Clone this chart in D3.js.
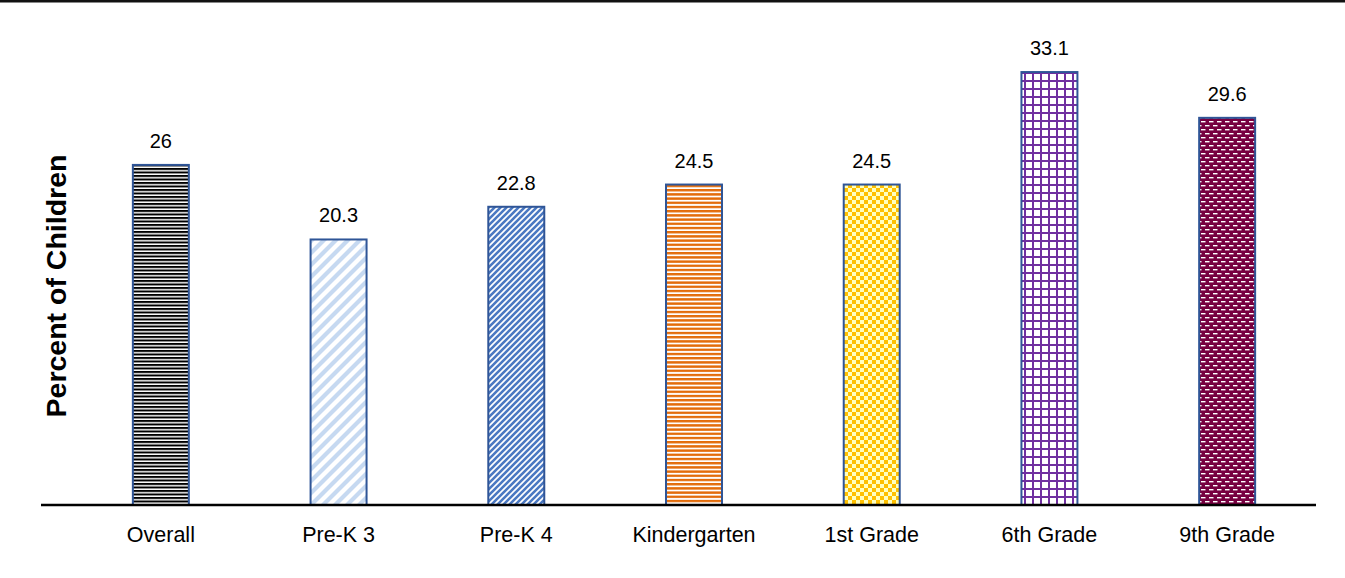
<!DOCTYPE html>
<html>
<head>
<meta charset="utf-8">
<script src="https://cdn.jsdelivr.net/npm/d3@7"></script>
<style>
  html, body { margin: 0; padding: 0; background: #fff; }
  svg { display: block; font-family: Arial, "Liberation Sans", sans-serif; }
</style>
</head>
<body>
<svg id="chart" width="1345" height="578"></svg>
<script>
// Share of children by grade level
const categories = ["Overall", "Pre-K 3", "Pre-K 4", "Kindergarten", "1st Grade", "6th Grade", "9th Grade"];
const values = [26, 20.3, 22.8, 24.5, 24.5, 33.1, 29.6];
const valueLabels = ["26", "20.3", "22.8", "24.5", "24.5", "33.1", "29.6"];
const patternIds = ["hstripe-black", "diag-light", "diag-dark", "hstripe-orange", "checker-gold", "grid-purple", "brick-maroon"];

const svg = d3.select("#chart");
const W = 1345, H = 578;
const margin = { left: 72, right: 29, top: 20, bottom: 73 };
const baseY = 505;

const x = d3.scaleBand()
  .domain(categories)
  .range([margin.left, W - margin.right])
  .paddingInner(0.685)
  .paddingOuter(0.3425);

const y = d3.scaleLinear().domain([0, 40]).range([baseY, baseY - 523.2]);

// Fill patterns
const defs = svg.append("defs");

function pat(id, w, h) {
  return defs.append("pattern").attr("id", id)
    .attr("patternUnits", "userSpaceOnUse").attr("width", w).attr("height", h);
}

// black horizontal stripes
let p = pat("hstripe-black", 4, 3.5);
p.append("rect").attr("width", 4).attr("height", 3.5).attr("fill", "#fff");
p.append("rect").attr("width", 4).attr("height", 2).attr("fill", "#000");

// light blue wide diagonal
p = pat("diag-light", 12, 12);
p.append("rect").attr("width", 12).attr("height", 12).attr("fill", "#fff");
p.append("path").attr("d", "M-3,3 L3,-3 M-3,15 L15,-3 M9,15 L15,9")
  .attr("stroke", "#c6d9f1").attr("stroke-width", 4.2);

// darker blue narrow diagonal
p = pat("diag-dark", 6, 6);
p.append("rect").attr("width", 6).attr("height", 6).attr("fill", "#fff");
p.append("path").attr("d", "M-1.5,1.5 L1.5,-1.5 M-1.5,7.5 L7.5,-1.5 M4.5,7.5 L7.5,4.5")
  .attr("stroke", "#4a78c2").attr("stroke-width", 2.6);

// orange horizontal stripes
p = pat("hstripe-orange", 4, 4.2);
p.append("rect").attr("width", 4).attr("height", 4.2).attr("fill", "#fff");
p.append("rect").attr("width", 4).attr("height", 2.4).attr("fill", "#e36c0a");

// gold checkerboard
p = pat("checker-gold", 8, 8);
p.append("rect").attr("width", 8).attr("height", 8).attr("fill", "#ffffc0");
p.append("rect").attr("width", 4).attr("height", 4).attr("fill", "#ffc000");
p.append("rect").attr("x", 4).attr("y", 4).attr("width", 4).attr("height", 4).attr("fill", "#ffc000");

// purple grid
p = pat("grid-purple", 8, 8);
p.append("rect").attr("width", 8).attr("height", 8).attr("fill", "#fff");
p.append("rect").attr("width", 8).attr("height", 2).attr("fill", "#7030a0");
p.append("rect").attr("width", 2).attr("height", 8).attr("fill", "#7030a0");

// maroon with white brick dashes
p = pat("brick-maroon", 8, 8);
p.append("rect").attr("width", 8).attr("height", 8).attr("fill", "#770040");
p.append("rect").attr("x", 1).attr("y", 1).attr("width", 4.5).attr("height", 1.4).attr("fill", "#fff");
p.append("rect").attr("x", 5).attr("y", 5).attr("width", 4.5).attr("height", 1.4).attr("fill", "#fff");
p.append("rect").attr("x", -3).attr("y", 5).attr("width", 4.5).attr("height", 1.4).attr("fill", "#fff");

// rule along the top edge
svg.append("rect").attr("x", 0).attr("y", 0).attr("width", W).attr("height", 2.5).attr("fill", "#111");

// bars
svg.append("g").selectAll("rect")
  .data(categories.map((c, i) => ({ c, v: values[i], p: patternIds[i], l: valueLabels[i] })))
  .join("rect")
  .attr("x", d => x(d.c))
  .attr("y", d => y(d.v))
  .attr("width", x.bandwidth())
  .attr("height", d => y(0) - y(d.v))
  .attr("fill", d => `url(#${d.p})`)
  .attr("stroke", "#2f5597")
  .attr("stroke-width", 2);

// value labels
svg.append("g").selectAll("text")
  .data(categories.map((c, i) => ({ c, v: values[i], l: valueLabels[i] })))
  .join("text")
  .attr("x", d => x(d.c) + x.bandwidth() / 2)
  .attr("y", d => y(d.v) - 17)
  .attr("text-anchor", "middle")
  .attr("font-size", 20)
  .attr("fill", "#000")
  .text(d => d.l);

// category axis
const xAxis = svg.append("g").attr("transform", `translate(0,${baseY})`)
  .call(d3.axisBottom(x).tickSize(0).tickPadding(22));
xAxis.select(".domain").remove();
xAxis.selectAll("text").attr("font-size", 21.5).attr("fill", "#000")
  .attr("font-family", "Arial, 'Liberation Sans', sans-serif");

svg.append("line")
  .attr("x1", 41).attr("x2", W - margin.right)
  .attr("y1", baseY).attr("y2", baseY)
  .attr("stroke", "#000").attr("stroke-width", 2.5);

// y axis title
svg.append("text")
  .attr("transform", `translate(66,${286}) rotate(-90)`)
  .attr("text-anchor", "middle")
  .attr("font-size", 28.5)
  .attr("font-weight", "bold")
  .attr("fill", "#000")
  .text("Percent of Children");
</script>
</body>
</html>
